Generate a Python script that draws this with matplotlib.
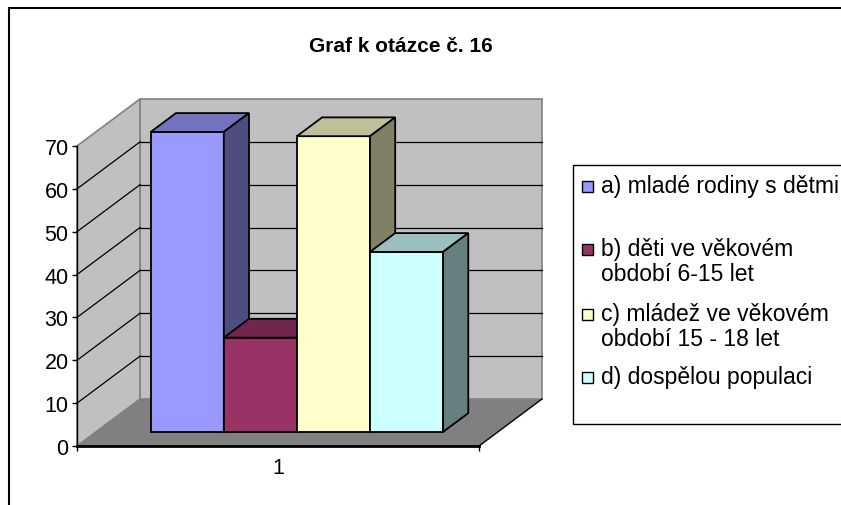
import numpy as np
import matplotlib.pyplot as plt
from matplotlib.patches import Polygon, Rectangle
from matplotlib.lines import Line2D

# Data
categories = ['1']
series_labels = ['a) mladé rodiny s dětmi',
                 'b) děti ve věkovém\nobdobí 6-15 let',
                 'c) mládež ve věkovém\nobdobí 15 - 18 let',
                 'd) dospělou populaci']
values = [70, 22, 69, 42]
series_colors = ['#9999FF', '#993366', '#FFFFCC', '#CCFFFF']
y_ticks = [0, 10, 20, 30, 40, 50, 60, 70]
title = 'Graf k otázce č. 16'

plt.rcParams['font.family'] = ['Liberation Sans', 'DejaVu Sans']

W, H = 841, 506
fig = plt.figure(figsize=(W / 100, H / 100), dpi=100)


def fx(x):
    return x / W


def fy(y):
    return 1 - y / H


# front plane of the 3D box: x 77..479 px, y 447..147 px
ax = fig.add_axes([fx(77), fy(447), 402 / W, 300 / H])
ax.set_xlim(0, 1)
ax.set_ylim(0, 70)
ax.patch.set_visible(False)

# oblique depth vector in data units
DX = 63 / 402
DY = 47 / 300 * 70


def proj(x, y, d):
    return (x + d * DX, y + d * DY)


def poly(pts, fc, ec='none', lw=1.0, z=1):
    ax.add_patch(Polygon(pts, closed=True, facecolor=fc, edgecolor=ec,
                         linewidth=lw, zorder=z, clip_on=False,
                         joinstyle='miter'))


ymax = y_ticks[-1]
# walls and floor
poly([proj(0, 0, 1), proj(1, 0, 1), proj(1, ymax, 1), proj(0, ymax, 1)],
     '#C0C0C0', '#808080', 1.2, 1)
poly([proj(0, 0, 0), proj(0, 0, 1), proj(0, ymax, 1), proj(0, ymax, 0)],
     '#C0C0C0', '#808080', 1.2, 1)
poly([proj(0, 0, 0), proj(1, 0, 0), proj(1, 0, 1), proj(0, 0, 1)],
     '#808080', 'none', 0, 1.1)
ax.add_line(Line2D(*zip(proj(1, 0, 0), proj(1, 0, 1)), color='black',
                   lw=1.0, zorder=1.2, clip_on=False))

# gridlines on side and back walls
for v in y_ticks[1:-1]:
    ax.add_line(Line2D(*zip(proj(0, v, 0), proj(0, v, 1)), color='black',
                       lw=0.9, zorder=1.3, clip_on=False))
    ax.add_line(Line2D(*zip(proj(0, v, 1), proj(1, v, 1)), color='black',
                       lw=0.9, zorder=1.3, clip_on=False))

# bars (gap width 150 %, depth 0.3..0.7)
n = len(values)
bw = 1 / (n + 1.5)
x0 = 0.75 * bw
d0, d1 = 0.3, 0.7
for i, (v, c) in enumerate(zip(values, series_colors)):
    xl, xr = x0 + i * bw, x0 + (i + 1) * bw
    rgb = np.array(plt.matplotlib.colors.to_rgb(c))
    z = 3 + i * 0.1
    poly([proj(xl, 0, d0), proj(xr, 0, d0), proj(xr, v, d0), proj(xl, v, d0)],
         c, 'black', 1.3, z)
    poly([proj(xl, v, d0), proj(xr, v, d0), proj(xr, v, d1), proj(xl, v, d1)],
         rgb * 0.75, 'black', 1.3, z)
    poly([proj(xr, 0, d0), proj(xr, 0, d1), proj(xr, v, d1), proj(xr, v, d0)],
         rgb * 0.5, 'black', 1.3, z)

# axes
for s in ['top', 'right']:
    ax.spines[s].set_visible(False)
ax.spines['left'].set_linewidth(1.0)
ax.spines['bottom'].set_linewidth(2.0)
ax.spines['bottom'].set_zorder(2)
ax.set_yticks(y_ticks)
ax.tick_params(axis='y', direction='out', length=3.6, width=1.0,
               pad=2.5, labelsize=15.5)
ax.set_xticks([0, 1])
ax.set_xticklabels(['', ''])
ax.set_xticks([0.5], minor=True)
ax.set_xticklabels(categories, minor=True)
ax.tick_params(axis='x', which='major', direction='out', length=3.6, width=1.0)
ax.tick_params(axis='x', which='minor', length=0, pad=8, labelsize=15.5)

# title
fig.text(fx(401), fy(47), title, ha='center', va='center',
         fontsize=15, fontweight='bold')

# legend
fig.add_artist(Rectangle((fx(573), fy(425)), fx(290), 259 / H,
                         transform=fig.transFigure, facecolor='white',
                         edgecolor='black', linewidth=1.0))
row_y = [187, 250, 315, 378]
for lab, c, yy in zip(series_labels, series_colors, row_y):
    fig.add_artist(Rectangle((fx(582), fy(yy + 5.5)), 11 / W, 11 / H,
                             transform=fig.transFigure, facecolor=c,
                             edgecolor='black', linewidth=1.0))
    fig.text(fx(601), fy(yy - 12), lab, ha='left', va='top',
             fontsize=16.5, linespacing=1.13)

# outer chart border
fig.add_artist(Rectangle((fx(9), fy(530)), fx(900), 521 / H,
                         transform=fig.transFigure, facecolor='none',
                         edgecolor='black', linewidth=1.5))

fig.savefig('out.png', dpi=100)
